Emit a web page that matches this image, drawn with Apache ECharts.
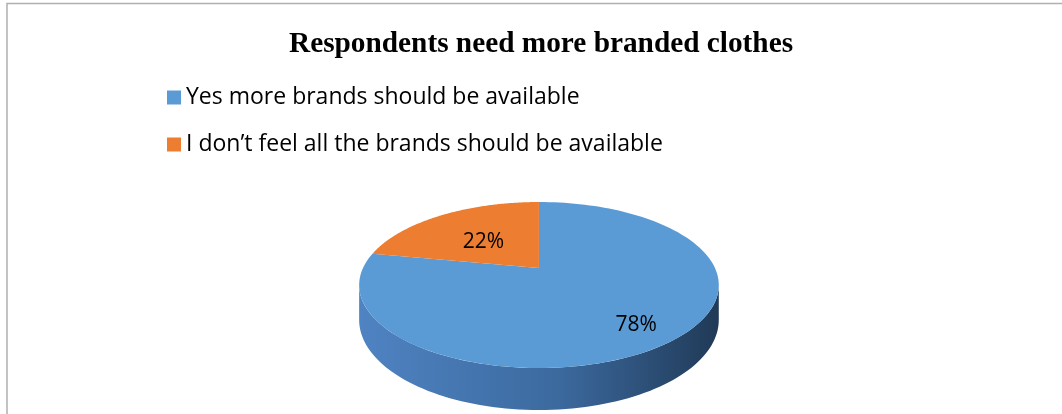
<!DOCTYPE html>
<html>
<head>
<meta charset="utf-8">
<script src="https://cdn.jsdelivr.net/npm/echarts@6/dist/echarts.min.js"></script>
<style>
html,body{margin:0;padding:0;background:#fff;}
#chart{width:1062px;height:414px;}
</style>
</head>
<body>
<div id="chart"></div>
<script>
var titleText = 'Respondents need more branded clothes';
var categories = ['Yes more brands should be available', 'I don\u2019t feel all the brands should be available'];
var values = [78, 22];
var labels = ['78%', '22%'];
var colors = ['#5b9bd5', '#ed7d31'];
var sideColors = [['#4f83c2', '#3c6a9f', '#203a57'], ['#c0601e', '#a85218', '#7a3a10']];

var total = values.reduce(function (a, b) { return a + b; }, 0);
var starts = [];
(function () { var s = 0; for (var i = 0; i < values.length; i++) { starts.push(s); s += values[i]; } })();

var chart = echarts.init(document.getElementById('chart'));

// perspective projection of a flat disc (tilted, seen from the front)
var P = { cxRatio: 0.5075, cy: 268, rx: 176, sy: 79.5, k: 0.205, depth: 33.4 };
function proj(r, t, drop) {
  var u = r * Math.sin(t), v = r * Math.cos(t);
  var w = 1 + P.k * v;
  var cx = chart.getWidth() * P.cxRatio;
  return [cx + P.rx * u / w, P.cy - P.sy * v / w + (drop ? P.depth / w : 0)];
}

function makeRender(idx) {
  return function (params, api) {
    var a0 = starts[idx] / total * Math.PI * 2;
    var a1 = (starts[idx] + values[idx]) / total * Math.PI * 2;
    var children = [];
    // visible side: between the two silhouette tangents (cos t = -k)
    var tA = Math.acos(-P.k), tB = Math.PI * 2 - tA;
    var s0 = Math.max(a0, tA), s1 = Math.min(a1, tB);
    if (s1 > s0) {
      var pts = [], n = 90, k;
      for (k = 0; k <= n; k++) pts.push(proj(1, s0 + (s1 - s0) * k / n, false));
      for (k = n; k >= 0; k--) pts.push(proj(1, s0 + (s1 - s0) * k / n, true));
      children.push({
        type: 'polygon', shape: { points: pts },
        style: {
          fill: new echarts.graphic.LinearGradient(1, 0, 0, 0, [
            { offset: 0, color: sideColors[idx][2] },
            { offset: 0.45, color: sideColors[idx][1] },
            { offset: 1, color: sideColors[idx][0] }
          ])
        }
      });
    }
    // top face
    var top = [proj(0, 0, false)], m = 140;
    for (var j = 0; j <= m; j++) top.push(proj(1, a0 + (a1 - a0) * j / m, false));
    children.push({ type: 'polygon', shape: { points: top }, style: { fill: colors[idx] } });
    // label
    var mid = (a0 + a1) / 2;
    var frac = values[idx] / total;
    var lp = proj(0.45 + 0.4 * frac, mid, false);
    children.push({
      type: 'text', x: lp[0], y: lp[1] + 4,
      style: {
        text: labels[idx], fill: '#000', font: '21px "Open Sans"',
        align: 'center', verticalAlign: 'middle'
      }
    });
    return { type: 'group', children: children };
  };
}

var series = categories.map(function (name, i) {
  return {
    type: 'custom', name: name, coordinateSystem: 'none',
    data: [values[i]], itemStyle: { color: colors[i] },
    renderItem: makeRender(i), silent: true, animation: false
  };
});

chart.setOption({
  animation: false,
  color: colors,
  title: {
    text: titleText, left: 284, top: 25,
    textStyle: { fontFamily: 'Liberation Serif', fontWeight: 'bold', fontSize: 29.3, color: '#000' }
  },
  legend: {
    orient: 'vertical', left: 162, top: 81, itemGap: 24,
    icon: 'rect', itemWidth: 14, itemHeight: 14,
    textStyle: { fontFamily: 'Open Sans', fontSize: 23, color: '#000' },
    data: categories
  },
  graphic: [{
    type: 'rect', shape: { x: 7, y: 3.5, width: 1200, height: 600 },
    style: { fill: null, stroke: '#b0b0b0', lineWidth: 1.5 }, silent: true
  }],
  series: series
});
</script>
</body>
</html>
